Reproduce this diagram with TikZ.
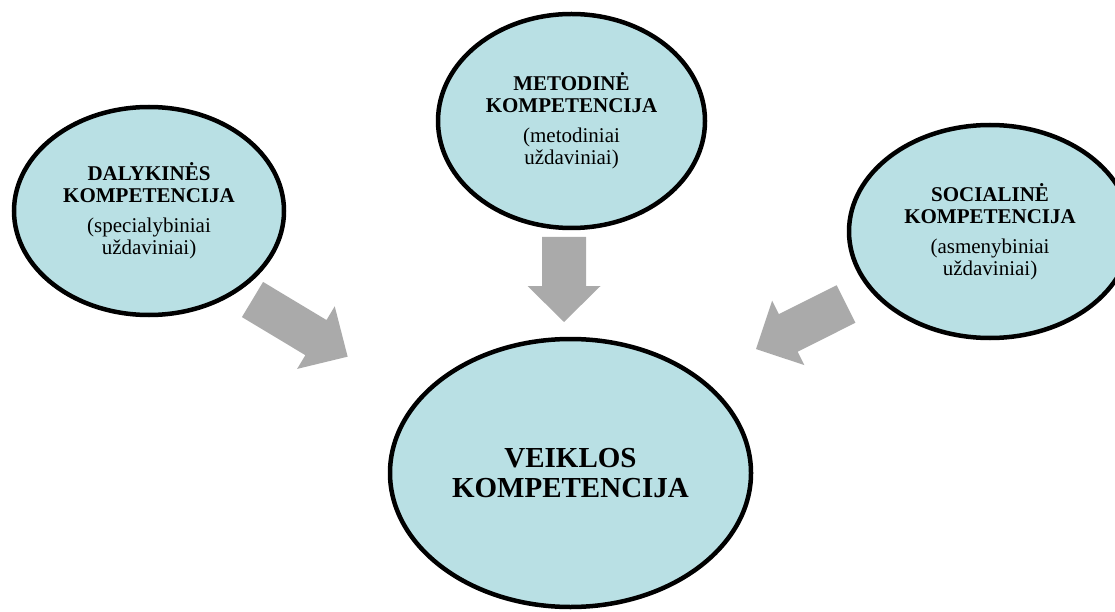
\documentclass[tikz,border=0pt]{standalone}
\usepackage{fontspec}
\setmainfont{Liberation Serif}
\usetikzlibrary{shapes.geometric}
\definecolor{compfill}{RGB}{185,224,228}
\definecolor{arrowgray}{RGB}{170,170,170}
\tikzset{
  comp/.style={ellipse, draw=black, line width=4.5pt, fill=compfill, inner sep=0pt,
    align=center, text=black, font=\fontsize{21}{22}\selectfont},
  bigcomp/.style={comp, font=\fontsize{29}{30}\selectfont\bfseries},
  blockarrow/.style={fill=arrowgray, draw=none}
}
% block arrow along the local x axis: length, shaft half-width, head half-width, head length
\newcommand{\blockarrowpath}[4]{%
  (0,-#2) -- ({#1-#4},-#2) -- ({#1-#4},-#3) -- (#1,0) -- ({#1-#4},#3) -- ({#1-#4},#2) -- (0,#2) -- cycle}
\begin{document}
\begin{tikzpicture}[x=1pt, y=-1pt]
\useasboundingbox (0,0) rectangle (1115,612);

\node[comp, minimum width=270pt, minimum height=208pt] (dal) at (149,211)
  {\textbf{DALYKINĖS}\\\textbf{KOMPETENCIJA}\\[8pt](specialybiniai\\uždaviniai)};
\node[comp, minimum width=267pt, minimum height=214pt] (met) at (571.5,121)
  {\textbf{METODINĖ}\\\textbf{KOMPETENCIJA}\\[8pt](metodiniai\\uždaviniai)};
\node[comp, minimum width=282pt, minimum height=213pt] (soc) at (990,231.5)
  {\textbf{SOCIALINĖ}\\\textbf{KOMPETENCIJA}\\[8pt](asmenybiniai\\uždaviniai)};
\node[bigcomp, minimum width=361pt, minimum height=268pt] (veik) at (570.5,473)
  {VEIKLOS\\KOMPETENCIJA};

% broad grey arrows pointing into the central competence
% (y axis points down, so the angles are taken clockwise)
\begin{scope}[shift={(252.5,299.5)}, rotate=-31]
  \fill[blockarrow] \blockarrowpath{111}{20.5}{36.5}{37};
\end{scope}
\begin{scope}[shift={(564,237)}, rotate=-90]
  \fill[blockarrow] \blockarrowpath{85}{22}{36.5}{36};
\end{scope}
\begin{scope}[shift={(846,304)}, rotate=-153.4]
  \fill[blockarrow] \blockarrowpath{100.6}{21}{36}{36};
\end{scope}
\end{tikzpicture}
\end{document}
